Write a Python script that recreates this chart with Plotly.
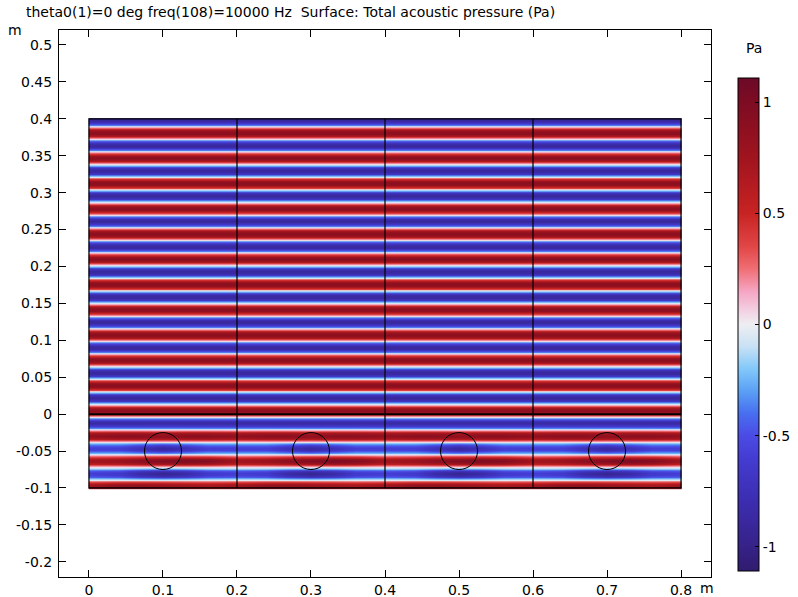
import plotly.graph_objects as go

# crest (red) / trough (blue) positions of the pressure stripes, bottom to top (m)
extrema_y = [-0.0976, -0.0805, -0.0634, -0.0463, -0.0292, -0.0121,
             0.0050, 0.0221, 0.0392, 0.0563, 0.0734, 0.0905, 0.1076, 0.1247,
             0.1418, 0.1589, 0.1760, 0.1931, 0.2102, 0.2273, 0.2444, 0.2615,
             0.2786, 0.2957, 0.3128, 0.3299, 0.3470, 0.3641, 0.3812, 0.3983]

# x positions inside one 0.2 m cell where the amplitude was read
cell_x = [0.0, 0.04, 0.07, 0.1, 0.13, 0.16, 0.2]
cell_edges = [0.0, 0.2, 0.4, 0.6, 0.8]

# signed crest amplitudes in the lower (scatterer) layer, rows bottom to top
lower_amp = [
    [0.75, 0.85, 0.85, 0.80, 0.75, 0.70, 0.75],        # y=-0.0976
    [-0.60, -0.65, -0.85, -0.95, -0.85, -0.65, -0.60],  # y=-0.0805
    [0.75, 0.80, 0.90, 0.95, 1.00, 0.95, 0.75],        # y=-0.0634
    [-0.60, -0.60, -0.75, -0.88, -0.75, -0.60, -0.60],  # y=-0.0463
    [0.85, 0.90, 0.90, 0.85, 0.90, 0.90, 0.85],        # y=-0.0292
    [-0.85, -0.85, -0.85, -0.85, -0.85, -0.85, -0.85],  # y=-0.0121
]
upper_amp = 0.9  # plane wave above y=0

# shape of a stripe from crest (0) toward the zero crossing (1)
ramp_frac = [0.25, 0.5, 0.75]
ramp_val = [0.93, 0.71, 0.38]

# scatterers
circle_x = [0.1, 0.3, 0.5, 0.7]
circle_y = -0.05
circle_r = 0.025

# ---- columns: tile the cell readings across the four cells
xs = []
col_idx = []
for k in range(len(cell_edges) - 1):
    for i, cx in enumerate(cell_x):
        x = round(cell_edges[k] + cx, 4)
        if xs and abs(xs[-1] - x) < 1e-9:
            continue
        xs.append(x)
        col_idx.append(i)
# hug the borders so the heatmap does not spill outside the domain
xs = [xs[0]] + [0.0008] + xs[1:-1] + [0.7992] + [xs[-1]]
col_idx = [col_idx[0], col_idx[0]] + col_idx[1:-1] + [col_idx[-1], col_idx[-1]]


def amp_row(n):
    if n < len(lower_amp):
        return [lower_amp[n][c] for c in col_idx]
    sign = 1 if n % 2 == 0 else -1
    return [sign * upper_amp for _ in col_idx]


ys, z = [], []
ys.append(-0.1)
z.append(amp_row(0))
for n in range(len(extrema_y)):
    a1 = amp_row(n)
    ys.append(extrema_y[n])
    z.append(a1)
    if n == len(extrema_y) - 1:
        break
    y1, y2 = extrema_y[n], extrema_y[n + 1]
    a2 = amp_row(n + 1)
    mid = (y1 + y2) / 2
    for f, v in zip(ramp_frac, ramp_val):
        ys.append(y1 + f * (mid - y1))
        z.append([a * v for a in a1])
    ys.append(mid)
    z.append([0.0 for _ in a1])
    for f, v in zip(reversed(ramp_frac), reversed(ramp_val)):
        ys.append(mid + (1 - f) * (y2 - mid))
        z.append([a * v for a in a2])
ys.append(0.4)
z.append(amp_row(len(extrema_y) - 1))

wave = [
    [0.0, 'rgb(48,28,110)'], [0.0487, 'rgb(54,34,135)'], [0.139, 'rgb(60,45,175)'],
    [0.229, 'rgb(68,60,210)'], [0.274, 'rgb(75,75,228)'], [0.319, 'rgb(72,110,240)'],
    [0.365, 'rgb(90,160,245)'], [0.41, 'rgb(130,200,250)'], [0.455, 'rgb(200,225,245)'],
    [0.5, 'rgb(238,238,242)'], [0.5226, 'rgb(242,215,230)'], [0.5677, 'rgb(245,165,195)'],
    [0.6128, 'rgb(240,110,115)'], [0.658, 'rgb(225,70,70)'], [0.7256, 'rgb(200,35,35)'],
    [0.8384, 'rgb(160,20,30)'], [0.9513, 'rgb(125,12,35)'], [1.0, 'rgb(108,10,40)'],
]

fig = go.Figure()
fig.add_trace(go.Heatmap(x=xs, y=ys, z=z, zsmooth='best', coloraxis='coloraxis',
                         hoverinfo='skip'))

black = 'black'
shapes = [dict(type='rect', x0=cell_edges[0], x1=cell_edges[-1], y0=-0.1, y1=0.4,
               line=dict(color=black, width=1.2))]
for xe in cell_edges[1:-1]:
    shapes.append(dict(type='line', x0=xe, x1=xe, y0=-0.1, y1=0.4,
                       line=dict(color=black, width=1.2)))
shapes.append(dict(type='line', x0=cell_edges[0], x1=cell_edges[-1], y0=0, y1=0,
                   line=dict(color=black, width=2)))
for cx in circle_x:
    shapes.append(dict(type='circle', x0=cx - circle_r, x1=cx + circle_r,
                       y0=circle_y - circle_r, y1=circle_y + circle_r,
                       line=dict(color=black, width=1)))
for s in shapes:
    s.update(xref='x', yref='y', layer='above')

xt = [0, 0.1, 0.2, 0.3, 0.4, 0.5, 0.6, 0.7, 0.8]
yt = [-0.2, -0.15, -0.1, -0.05, 0, 0.05, 0.1, 0.15, 0.2, 0.25, 0.3, 0.35, 0.4, 0.45, 0.5]

font = dict(family='DejaVu Sans', size=14, color='black')
axis = dict(showgrid=False, zeroline=False, showline=True, linecolor=black, linewidth=1,
            mirror='ticks', ticks='inside', ticklen=7, tickcolor=black, tickwidth=1,
            automargin=False)

fig.update_layout(
    width=798, height=597,
    margin=dict(l=59, r=87, t=30, b=20),
    paper_bgcolor='white', plot_bgcolor='white',
    font=font,
    title=dict(text='theta0(1)=0 deg freq(108)=10000 Hz  Surface: Total acoustic pressure (Pa)',
               x=26 / 798, xanchor='left', xref='container',
               y=1 - 12 / 597, yanchor='middle', yref='container',
               font=dict(family='DejaVu Sans', size=14, color='black')),
    xaxis=dict(axis, range=[-0.0405, 0.8405], tickvals=xt,
               ticktext=[f'{v:g}' for v in xt], ticklabelstandoff=0),
    yaxis=dict(axis, range=[-0.2206, 0.5203], tickvals=yt,
               ticktext=[f'{v:g}' for v in yt], ticklabelstandoff=3),
    coloraxis=dict(
        colorscale=wave, cmin=-1.108, cmax=1.108,
        colorbar=dict(xref='container', x=738 / 798, xanchor='left', xpad=0, ypad=0,
                      yref='paper', y=0.4616, yanchor='middle',
                      lenmode='pixels', len=493,
                      thickness=21, outlinecolor=black, outlinewidth=1,
                      tickvals=[-1, -0.5, 0, 0.5, 1], ticktext=['-1', '-0.5', '0', '0.5', '1'],
                      ticks='inside', ticklen=4, tickcolor=black,
                      tickfont=dict(family='DejaVu Sans', size=14, color='black')),
    ),
    shapes=shapes,
    annotations=[
        dict(text='m', xref='paper', yref='paper', x=-0.0675, y=1.0, showarrow=False,
             xanchor='center', yanchor='middle'),
        dict(text='m', xref='paper', yref='paper', x=0.9939, y=-0.021, showarrow=False,
             xanchor='center', yanchor='middle'),
        dict(text='Pa', xref='paper', yref='paper', x=1.066, y=0.967, showarrow=False,
             xanchor='center', yanchor='middle'),
    ],
)

# the page body has a default 8px margin; drop it so the figure sits at the window corner
fig.write_html('out.html', config={'displayModeBar': False},
               post_script="document.body.style.margin='0';")
